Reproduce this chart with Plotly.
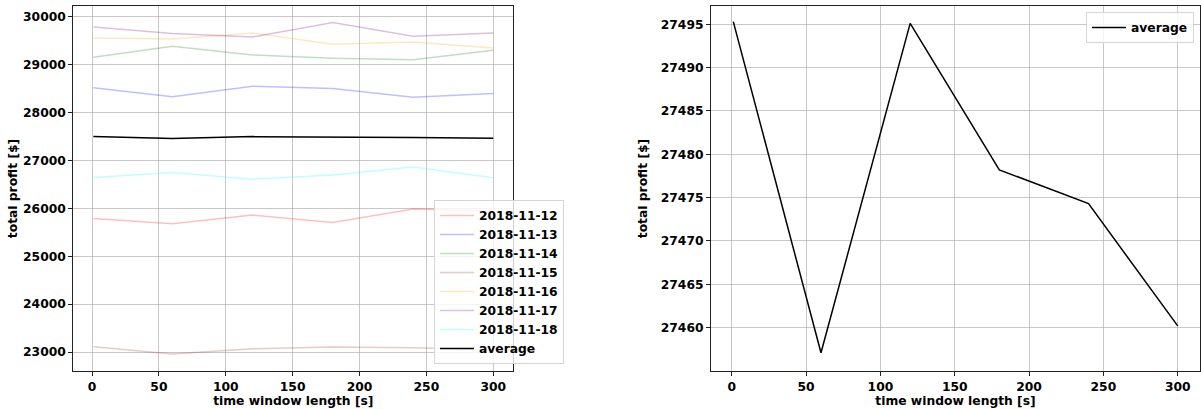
import plotly.graph_objects as go

x_vals = [1, 60, 120, 180, 240, 300]

dates = ["2018-11-12", "2018-11-13", "2018-11-14", "2018-11-15",
         "2018-11-16", "2018-11-17", "2018-11-18"]

s_1112 = [25788, 25676, 25857, 25705, 25983, 25941]
s_1113 = [28513, 28325, 28547, 28499, 28318, 28395]
s_1114 = [29152, 29381, 29201, 29131, 29097, 29298]
s_1115 = [23112, 22959, 23070, 23105, 23090, 23050]
s_1116 = [29555, 29534, 29659, 29423, 29471, 29346]
s_1117 = [29784, 29646, 29576, 29875, 29590, 29660]
s_1118 = [26643, 26747, 26608, 26692, 26859, 26636]
average = [27495.3, 27457.1, 27495.1, 27478.2, 27474.3, 27460.2]

series = [s_1112, s_1113, s_1114, s_1115, s_1116, s_1117, s_1118]
colors = ["rgba(255,0,0,0.25)", "rgba(0,0,255,0.25)", "rgba(0,128,0,0.25)",
          "rgba(165,42,42,0.25)", "rgba(255,165,0,0.25)", "rgba(128,0,128,0.25)",
          "rgba(0,255,255,0.25)"]

FONT = dict(family="DejaVu Sans", size=12.3, color="black", weight="bold")

fig = go.Figure()
for name, vals, col in zip(dates, series, colors):
    fig.add_trace(go.Scatter(x=x_vals, y=vals, mode="lines", name=name,
                             line=dict(color=col, width=1.5),
                             xaxis="x", yaxis="y", legend="legend"))
fig.add_trace(go.Scatter(x=x_vals, y=average, mode="lines", name="average",
                         line=dict(color="black", width=1.5),
                         xaxis="x", yaxis="y", legend="legend"))
fig.add_trace(go.Scatter(x=x_vals, y=average, mode="lines", name="average",
                         line=dict(color="black", width=1.5),
                         xaxis="x2", yaxis="y2", legend="legend2"))

grid = "rgba(176,176,176,0.7)"
common_axis = dict(showgrid=True, gridcolor=grid, gridwidth=1, zeroline=False,
                   showline=True, linecolor="#222", linewidth=1, mirror=True,
                   ticks="outside", ticklen=4, tickcolor="#222",
                   tickfont=FONT, tickformat="d")

ydom = [1 - 371 / 409, 1 - 6 / 409]

fig.update_layout(
    width=1201, height=409,
    margin=dict(l=0, r=0, t=0, b=0),
    paper_bgcolor="white", plot_bgcolor="white",
    font=FONT,
    xaxis=dict(domain=[73.3 / 1201, 513.3 / 1201], range=[-14, 315],
               tickmode="array", tickvals=[0, 50, 100, 150, 200, 250, 300],
               title=dict(text="time window length [s]", font=FONT, standoff=2),
               anchor="y", **common_axis),
    yaxis=dict(domain=ydom, range=[22604, 30221],
               tickmode="array", tickvals=list(range(23000, 30001, 1000)),
               title=dict(text="total profit [$]", font=FONT, standoff=2),
               anchor="x", **common_axis),
    xaxis2=dict(domain=[711 / 1201, 1200 / 1201], range=[-14, 315],
                tickmode="array", tickvals=[0, 50, 100, 150, 200, 250, 300],
                title=dict(text="time window length [s]", font=FONT, standoff=2),
                anchor="y2", **common_axis),
    yaxis2=dict(domain=ydom, range=[27455.0, 27497.1],
                tickmode="array", tickvals=list(range(27460, 27496, 5)),
                title=dict(text="total profit [$]", font=FONT, standoff=10),
                anchor="x2", **common_axis),
    legend=dict(x=564 / 1201, y=1 - 364 / 409, xanchor="right", yanchor="bottom",
                bgcolor="rgba(255,255,255,0.8)", bordercolor="#d5d5d5", borderwidth=1,
                font=FONT, tracegroupgap=0, itemwidth=34),
    legend2=dict(x=1194 / 1201, y=1 - 12 / 409, xanchor="right", yanchor="top",
                 bgcolor="rgba(255,255,255,0.8)", bordercolor="#d5d5d5", borderwidth=1,
                 font=FONT, itemwidth=34),
)

fig.write_html("out.html")
